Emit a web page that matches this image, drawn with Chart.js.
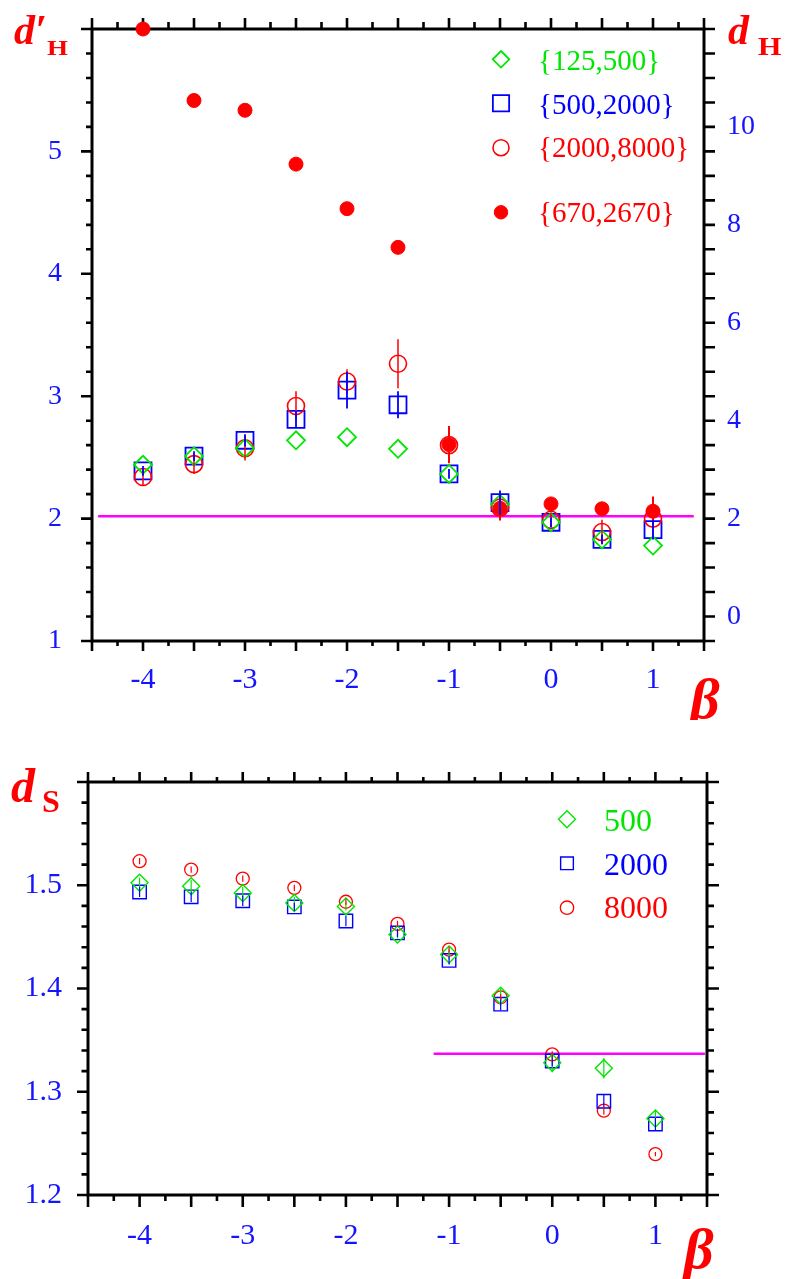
<!DOCTYPE html>
<html>
<head>
<meta charset="utf-8">
<title>d_H and d_S versus beta</title>
<script src="https://cdn.jsdelivr.net/npm/chart.js@4.4.1/dist/chart.umd.min.js"></script>
<style>
  body { margin: 0; background: #fff; }
  #wrap { position: relative; width: 788px; height: 1279px; }
  canvas { position: absolute; left: 0; }
  #topChart { top: 0; }
  #bottomChart { top: 720px; }
</style>
</head>
<body>
<div id="wrap">
  <canvas id="topChart" width="788" height="720"></canvas>
  <canvas id="bottomChart" width="788" height="559"></canvas>
</div>
<script>
const betas = [-4, -3.5, -3, -2.5, -2, -1.5, -1, -0.5, 0, 0.5, 1];

// top panel, left axis d'_H
const dHp125 = [2.44, 2.51, 2.575, 2.64, 2.665, 2.57, 2.365, 2.12, 1.97, 1.83, 1.78];
const dHp500 = [2.39, 2.51, 2.64, 2.81, 3.05, 2.93, 2.365, 2.13, 1.97, 1.83, 1.91];
const errHp500 = [0.04, 0.04, 0.05, 0.07, 0.15, 0.11, 0.04, 0.1, 0.04, 0.04, 0.08];
const dHp2000 = [2.34, 2.445, 2.575, 2.92, 3.12, 3.265, 2.6, 2.09, 1.99, 1.89, 2.0];
const errHp2000 = [0.07, 0.08, 0.1, 0.12, 0.1, 0.2, 0.13, 0.1, 0.06, 0.1, 0.15];
// top panel, right axis d_H
const dH670 = [12.0, 10.54, 10.34, 9.24, 8.33, 7.54, 3.51, 2.21, 2.30, 2.20, 2.15];
const errH670 = [0, 0, 0, 0, 0, 0, 0.38, 0.25, 0.08, 0, 0.3];
const topRefX = [-4.44, 1.4];
const topRefY = [2.02, 2.02];

// bottom panel d_S
const dS500 = [1.5025, 1.499, 1.4925, 1.4828, 1.4795, 1.4524, 1.433, 1.393, 1.328, 1.3228, 1.274];
const errS500 = [0.005, 0.006, 0.006, 0.006, 0.004, 0.004, 0.005, 0.007, 0.009, 0.01, 0.008];
const dS2000 = [1.4935, 1.4888, 1.485, 1.479, 1.4654, 1.4538, 1.4272, 1.3848, 1.3298, 1.2908, 1.2688];
const errS2000 = [0.005, 0.005, 0.005, 0.004, 0.005, 0.004, 0.004, 0.006, 0.005, 0.006, 0.006];
const dS8000 = [1.5233, 1.5152, 1.5064, 1.4975, 1.484, 1.4626, 1.4377, 1.3915, 1.3362, 1.2817, 1.2396];
const errS8000 = [0.003, 0.003, 0.003, 0.003, 0.003, 0.003, 0.003, 0.003, 0.003, 0.004, 0.002];
const botRefX = [-1.15, 1.48];
const botRefY = [1.3367, 1.3367];

const BLUE = '#0000ff', GREEN = '#00e600', RED = '#ff0000', MAGENTA = '#ff00ff', TICKBLUE = '#1414ff';
const SERIF = '"Liberation Serif", "Times New Roman", serif';

Chart.defaults.font.family = SERIF;
Chart.defaults.animation = false;

function isMult(v, step) {
    const q = v / step;
    return Math.abs(q - Math.round(q)) < 1e-6;
}

function pts(xs, ys) {
    return xs.map((x, i) => ({ x: x, y: ys[i] }));
}

// fixed axis box size, no extra label padding
function fixSize(w, h) {
    return s => {
        if (w) s.width = w;
        if (h) s.height = h;
        s.paddingTop = 0; s.paddingBottom = 0; s.paddingLeft = 0; s.paddingRight = 0;
    };
}

function marker(ctx, style, r, x, y, fill) {
    ctx.beginPath();
    if (style === 'circle') {
        ctx.arc(x, y, r, 0, Math.PI * 2);
    } else if (style === 'rect') {
        const s = r * Math.SQRT1_2;
        ctx.rect(x - s, y - s, 2 * s, 2 * s);
    } else {
        ctx.moveTo(x, y - r); ctx.lineTo(x + r, y); ctx.lineTo(x, y + r); ctx.lineTo(x - r, y); ctx.closePath();
    }
    if (fill) ctx.fill();
    ctx.stroke();
}

// axes frame with outward ticks, error bars, inset legend and axis symbols
const framePlugin = {
    id: 'frame',
    beforeDatasetsDraw(chart, args, opts) {
        const ctx = chart.ctx, a = chart.chartArea;
        ctx.save();
        ctx.strokeStyle = '#000';
        ctx.lineWidth = 2.6;
        ctx.beginPath();
        opts.ticks.forEach(t => {
            const s = chart.scales[t.scale];
            s.ticks.forEach(tk => {
                const len = isMult(tk.value, t.every) ? t.major : t.minor;
                const p = s.getPixelForValue(tk.value);
                if (t.side === 'left') { ctx.moveTo(a.left, p); ctx.lineTo(a.left - len, p); }
                if (t.side === 'right') { ctx.moveTo(a.right, p); ctx.lineTo(a.right + len, p); }
                if (t.side === 'bottom') { ctx.moveTo(p, a.bottom); ctx.lineTo(p, a.bottom + len); }
                if (t.side === 'top') { ctx.moveTo(p, a.top); ctx.lineTo(p, a.top - len); }
            });
        });
        ctx.stroke();
        ctx.lineWidth = 3;
        ctx.strokeRect(a.left, a.top, a.right - a.left, a.bottom - a.top);
        ctx.restore();
    },
    afterDatasetsDraw(chart) {
        const ctx = chart.ctx;
        ctx.save();
        chart.data.datasets.forEach((ds, i) => {
            if (!ds.errors) return;
            const meta = chart.getDatasetMeta(i);
            const xs = chart.scales[meta.xAxisID], ys = chart.scales[meta.yAxisID];
            ctx.strokeStyle = ds.borderColor;
            ctx.lineWidth = ds.errWidth || 1.5;
            ctx.beginPath();
            ds.data.forEach((p, j) => {
                const e = ds.errors[j];
                if (!e) return;
                const px = xs.getPixelForValue(p.x);
                ctx.moveTo(px, ys.getPixelForValue(p.y - e));
                ctx.lineTo(px, ys.getPixelForValue(p.y + e));
            });
            ctx.stroke();
        });
        ctx.restore();
    },
    afterDraw(chart, args, opts) {
        const ctx = chart.ctx;
        ctx.save();
        const lg = opts.legend;
        lg.rows.forEach(row => {
            const ds = chart.data.datasets[row.ds];
            ctx.strokeStyle = ds.borderColor;
            ctx.fillStyle = ds.borderColor;
            ctx.lineWidth = ds.borderWidth;
            marker(ctx, ds.pointStyle, row.r, lg.markerX, row.my, ds.filled);
            ctx.font = lg.font;
            ctx.textBaseline = 'alphabetic';
            ctx.textAlign = 'left';
            ctx.fillText(ds.label, lg.textX, row.ty);
        });
        opts.titles.forEach(t => {
            ctx.save();
            ctx.font = t.font;
            ctx.fillStyle = RED;
            ctx.textBaseline = 'alphabetic';
            ctx.translate(t.x, t.y);
            ctx.scale(t.sx || 1, 1);
            ctx.fillText(t.text, 0, 0);
            ctx.restore();
        });
        ctx.restore();
    }
};

function xScale(height, padding) {
    return {
        type: 'linear', position: 'bottom', min: -4.5, max: 1.5,
        afterFit: fixSize(0, height),
        grid: { display: false, drawTicks: false },
        border: { display: false },
        ticks: {
            stepSize: 0.25, autoSkip: false, maxRotation: 0, minRotation: 0,
            padding: padding, color: TICKBLUE, font: { size: 30 },
            callback: v => isMult(v, 1) ? String(Math.round(v)) : ''
        }
    };
}

new Chart(document.getElementById('topChart'), {
    type: 'scatter',
    data: {
        datasets: [
            {
                label: '{670,2670}', data: pts(betas, dH670), errors: errH670, yAxisID: 'y2',
                pointStyle: 'circle', pointRadius: 7, borderColor: RED, backgroundColor: RED,
                borderWidth: 1, filled: true, errWidth: 2, clip: false
            },
            {
                label: '{125,500}', data: pts(betas, dHp125), yAxisID: 'y',
                pointStyle: 'rectRot', pointRadius: 9, borderColor: GREEN, backgroundColor: 'rgba(0,0,0,0)',
                borderWidth: 1.8, clip: false
            },
            {
                label: '{2000,8000}', data: pts(betas, dHp2000), errors: errHp2000, yAxisID: 'y',
                pointStyle: 'circle', pointRadius: 8.5, borderColor: RED, backgroundColor: 'rgba(0,0,0,0)',
                borderWidth: 1.6, clip: false
            },
            {
                label: '{500,2000}', data: pts(betas, dHp500), errors: errHp500, yAxisID: 'y',
                pointStyle: 'rect', pointRadius: 12, borderColor: BLUE, backgroundColor: 'rgba(0,0,0,0)',
                borderWidth: 1.8, errWidth: 1.8, clip: false
            },
            {
                label: 'ref', data: pts(topRefX, topRefY), yAxisID: 'y', type: 'line',
                showLine: true, pointRadius: 0, borderColor: MAGENTA, borderWidth: 2.5
            }
        ]
    },
    options: {
        responsive: false,
        devicePixelRatio: 1,
        events: [],
        layout: { padding: { top: 29, left: 0, right: 0, bottom: 0 } },
        scales: {
            x: xScale(79, 21),
            y: {
                type: 'linear', position: 'left', min: 1, max: 6,
                afterFit: fixSize(92, 0),
                grid: { display: false, drawTicks: false },
                border: { display: false },
                ticks: {
                    stepSize: 0.2, autoSkip: false, padding: 30, color: TICKBLUE, font: { size: 28 },
                    callback: v => (isMult(v, 1) && v < 5.5) ? String(Math.round(v)) : ''
                }
            },
            y2: {
                type: 'linear', position: 'right', min: -0.5, max: 12,
                afterFit: fixSize(84, 0),
                grid: { display: false, drawTicks: false },
                border: { display: false },
                ticks: {
                    stepSize: 0.5, autoSkip: false, padding: 23, color: TICKBLUE, font: { size: 28 },
                    callback: v => (isMult(v, 2) && v >= 0 && v <= 10) ? String(Math.round(v)) : ''
                }
            }
        },
        plugins: {
            legend: { display: false },
            tooltip: { enabled: false },
            frame: {
                ticks: [
                    { scale: 'y', side: 'left', every: 1, major: 11, minor: 6 },
                    { scale: 'y2', side: 'right', every: 0.5, major: 11, minor: 11 },
                    { scale: 'x', side: 'bottom', every: 0.5, major: 10, minor: 5 },
                    { scale: 'x', side: 'top', every: 0.5, major: 11, minor: 7 }
                ],
                legend: {
                    markerX: 501, textX: 538, font: '29px ' + SERIF,
                    rows: [
                        { ds: 1, my: 59.3, ty: 70, r: 8.3 },
                        { ds: 3, my: 103.3, ty: 113.5, r: 11.5 },
                        { ds: 2, my: 147.7, ty: 157, r: 8 },
                        { ds: 0, my: 212.3, ty: 221.5, r: 6.7 }
                    ]
                },
                titles: [
                    { text: 'd\u2032', x: 14, y: 44, font: 'italic bold 42px ' + SERIF },
                    { text: 'H', x: 47, y: 55, font: 'bold 20px ' + SERIF, sx: 1.35 },
                    { text: 'd', x: 728, y: 44, font: 'italic bold 42px ' + SERIF },
                    { text: 'H', x: 758, y: 55, font: 'bold 25px ' + SERIF, sx: 1.2 },
                    { text: '\u03b2', x: 690, y: 718, font: 'italic bold 58px ' + SERIF }
                ]
            }
        }
    },
    plugins: [framePlugin]
});

new Chart(document.getElementById('bottomChart'), {
    type: 'scatter',
    data: {
        datasets: [
            {
                label: '500', data: pts(betas, dS500), errors: errS500,
                pointStyle: 'rectRot', pointRadius: 8.5, borderColor: GREEN, backgroundColor: 'rgba(0,0,0,0)',
                borderWidth: 1.4, errWidth: 1.2, clip: false
            },
            {
                label: '2000', data: pts(betas, dS2000), errors: errS2000,
                pointStyle: 'rect', pointRadius: 9.5, borderColor: BLUE, backgroundColor: 'rgba(0,0,0,0)',
                borderWidth: 1.4, errWidth: 1.2, clip: false
            },
            {
                label: '8000', data: pts(betas, dS8000), errors: errS8000,
                pointStyle: 'circle', pointRadius: 6.5, borderColor: RED, backgroundColor: 'rgba(0,0,0,0)',
                borderWidth: 1.3, errWidth: 1.2, clip: false
            },
            {
                label: 'ref', data: pts(botRefX, botRefY), type: 'line',
                showLine: true, pointRadius: 0, borderColor: MAGENTA, borderWidth: 2.5
            }
        ]
    },
    options: {
        responsive: false,
        devicePixelRatio: 1,
        events: [],
        layout: { padding: { top: 62, left: 0, right: 81, bottom: 0 } },
        scales: {
            x: xScale(84, 23),
            y: {
                type: 'linear', position: 'left', min: 1.2, max: 1.6,
                afterFit: fixSize(88, 0),
                grid: { display: false, drawTicks: false },
                border: { display: false },
                ticks: {
                    stepSize: 0.02, autoSkip: false, padding: 26, color: TICKBLUE, font: { size: 30 },
                    callback: v => (isMult(v, 0.1) && v < 1.55) ? v.toFixed(1) : ''
                }
            }
        },
        plugins: {
            legend: { display: false },
            tooltip: { enabled: false },
            frame: {
                ticks: [
                    { scale: 'y', side: 'left', every: 0.1, major: 11, minor: 6.5 },
                    { scale: 'y', side: 'right', every: 0.1, major: 12, minor: 7 },
                    { scale: 'x', side: 'bottom', every: 0.5, major: 12, minor: 6 },
                    { scale: 'x', side: 'top', every: 0.5, major: 10, minor: 5 }
                ],
                legend: {
                    markerX: 567, textX: 604, font: '32px ' + SERIF,
                    rows: [
                        { ds: 0, my: 99.3, ty: 110.7, r: 8.5 },
                        { ds: 1, my: 143.3, ty: 155, r: 9 },
                        { ds: 2, my: 187.7, ty: 198.3, r: 6.7 }
                    ]
                },
                titles: [
                    { text: 'd', x: 11, y: 82, font: 'italic bold 48px ' + SERIF },
                    { text: 'S', x: 42, y: 91.7, font: 'bold 32px ' + SERIF },
                    { text: '\u03b2', x: 684, y: 548, font: 'italic bold 58px ' + SERIF }
                ]
            }
        }
    },
    plugins: [framePlugin]
});
</script>
</body>
</html>
